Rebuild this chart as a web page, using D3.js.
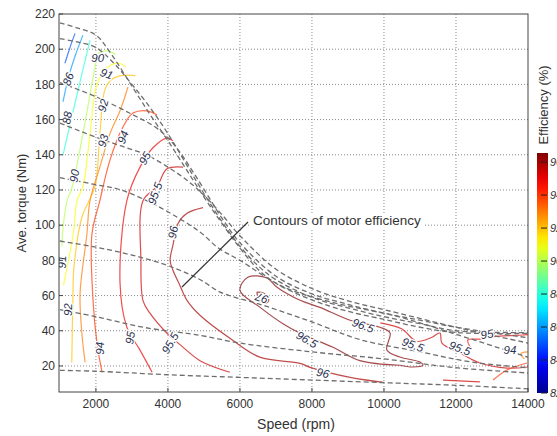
<!DOCTYPE html>
<html>
<head>
<meta charset="utf-8">
<script src="https://cdn.jsdelivr.net/npm/d3@7"></script>
<style>
body { margin: 0; background: #fff; }
svg { display: block; font-family: "Liberation Sans", Arial, sans-serif; }
</style>
</head>
<body>
<svg id="chart" width="557" height="436"></svg>
<script>
// axis ticks
var xTicks = [2000, 4000, 6000, 8000, 10000, 12000, 14000];
var yTicks = [20, 40, 60, 80, 100, 120, 140, 160, 180, 200, 220];
var cbTicks = [82, 84, 86, 88, 90, 92, 94, 96];

// dashed torque/speed curves, [rpm, Nm]
var dash1 = [[1000,215],[1500,212],[2000,208],[2400,198],[3000,179],[3500,163],[4000,148],[4500,132],[5000,116],[5500,101],[6000,87],[6500,75],[7000,67],[8000,57.5],[9000,51],[10000,46.5],[11000,42],[12000,39],[14000,38.5]];
var dash2 = [[1000,206],[1500,204],[2000,201],[2500,192],[3000,180],[3500,167],[4000,152],[4500,135],[5000,118],[5500,102],[6000,88],[6500,77],[7000,69],[8000,59],[9000,53],[10000,48],[11000,44],[12000,40],[14000,39]];
var dash3 = [[1000,181],[2000,173],[3000,163],[3700,155],[4200,145],[4800,127],[5500,104],[6000,90],[7000,71],[8000,61],[9000,55],[10000,50],[11000,46],[12000,42],[14000,36]];
var dash4 = [[1000,158],[2000,150],[2700,145],[3400,140],[4000,133],[4500,126],[5000,117],[5500,106],[6000,94],[7000,75],[8000,64],[9000,57],[10000,52],[11000,47],[12000,42],[14000,33]];
var dash5 = [[1000,127],[2000,123],[2700,120],[3600,112],[4300,104],[4900,96],[5400,87],[6000,80],[7200,65],[8600,56],[10400,48],[12000,38],[14000,25]];
var dash6 = [[1000,91],[2000,87.5],[3000,83],[4000,77],[4900,69],[5450,62],[6640,54.5],[8000,45],[9330,35],[11000,28],[12500,22],[14000,19]];
var dash7 = [[1000,52],[2000,48],[3310,42],[4890,37.4],[6000,33],[8000,28],[10000,24],[12000,19],[14000,16]];
var dash8 = [[1000,17.5],[2000,17],[4000,15],[6000,13.5],[8000,12],[10000,10.5],[12000,9],[14000,7]];

// efficiency contours, [rpm, Nm]
var eff85 = [[1140,192],[1280,201],[1420,209]];
var eff86 = [[1086,170],[1225,183],[1420,196],[1640,208]];
var eff88 = [[1086,140],[1200,150],[1336,162],[1600,185],[1836,205]];
var eff90 = [[1050,88],[1100,101],[1200,114],[1330,121],[1640,152],[1975,190],[2050,197],[2300,199],[2550,197]];
var eff91 = [[1100,66],[1370,95],[1475,114],[1640,122],[1810,147],[2000,178],[2140,185],[2420,191],[2640,192],[2830,190]];
var eff92 = [[1330,22],[1360,57],[1390,76],[1610,104.5],[1975,122],[2110,152],[2250,177],[2420,182.5],[2700,185],[3100,185]];
var eff93 = [[1700,22],[1610,38.6],[1560,61],[1750,95],[1836,114],[2110,133],[2390,152],[2670,165],[2890,178.5]];
var eff94 = [[2170,16.4],[2030,33],[1920,57.3],[1890,95],[2110,114],[2390,137],[2750,155.7],[3030,163.7],[3420,165],[3700,162.6]];
var eff95 = [[3560,16.4],[3225,29],[2860,42],[2670,67],[2860,114],[3225,133],[3585,144],[3974,149.5],[4140,148]];
var eff955 = [[5720,16.4],[4890,23],[4400,31],[3974,38.6],[3500,50],[3310,57],[3250,80],[3310,114],[3697,122],[3974,132],[4420,133]];
var eff96 = [[4975,110],[4530,106.8],[4280,101],[4140,88.6],[4060,80],[4140,74.4],[4330,65.9],[4530,57.3],[4890,48.8],[5800,34.6],[6550,25],[7670,21.5],[7950,19.2],[9060,13.5],[9980,10.7]];
var eff965 = [[10440,20.4],[9330,23],[8585,30.6],[7670,38.6],[7195,44],[6560,53.3],[6000,63],[6220,70.4],[6750,70],[7030,64.7],[7670,57.3],[8220,53.3],[9060,46],[9890,42],[10170,38.7],[10080,29.1],[10440,25.1],[11000,22.2],[11080,20.5],[10800,19.4],[10440,20.4]];
var eff97 = [[6470,62],[6650,61.5],[6800,58],[6750,56],[6550,57],[6470,62]];
// high-speed region pieces
var eff955b = [[9900,44.5],[10500,41],[10900,34],[11300,36],[11555,38.7],[11610,33],[12110,27.4],[12665,21.7],[13415,18.8],[14000,19.4]];
var eff95b = [[12390,30.8],[12330,34.8],[12665,35.3],[12940,36.5],[13860,37.6],[14000,37.8]];
var eff955c = [[11640,12],[12665,10.9]];
var eff94b = [[13030,12],[13415,17.7],[13970,21.7]];
var eff93b = [[13900,24],[13800,27],[14000,28]];

var contours = [
  {level: 85, pts: eff85}, {level: 86, pts: eff86}, {level: 88, pts: eff88},
  {level: 90, pts: eff90}, {level: 91, pts: eff91}, {level: 92, pts: eff92},
  {level: 93, pts: eff93}, {level: 94, pts: eff94}, {level: 95, pts: eff95},
  {level: 95.5, pts: eff955}, {level: 96, pts: eff96}, {level: 96.5, pts: eff965},
  {level: 97, pts: eff97}, {level: 95.5, pts: eff955b}, {level: 95, pts: eff95b},
  {level: 95.5, pts: eff955c}, {level: 94, pts: eff94b}, {level: 93, pts: eff93b}
];

// contour labels: text, rpm, Nm, angle
var labelText = ["86","88","90","91","90","92","93","94","95","95.5","96","91","92","94","95","95.5","97","96.5","96","96.5","95.5","95.5","95","94"];
var labelRpm  = [1230,1200,2050,2300,1400,2200,2200,2750,3360,3640,4140,1060,1225,2100,2950,4060,6610,7860,8300,9420,10805,12110,12860,13500];
var labelNm   = [183,161,195,186,128,168,148,150,138,118,96,79,52,30,36,33,58.5,35,16,43,32,30,38,29];
var labelAng  = [-70,-80,0,20,-80,-75,-75,-70,-60,-70,-80,-90,-90,-90,-80,-60,200,30,12,20,20,20,-10,0];

var svg = d3.select("#chart");

var x = d3.scaleLinear().domain([975, 14000]).range([59, 528]);
var y = d3.scaleLinear().domain([5.2, 220]).range([392, 14]);

var jet = d3.scaleLinear()
  .domain([0, 0.125, 0.375, 0.625, 0.875, 1])
  .range(["#00008f", "#0000ff", "#00ffff", "#ffff00", "#ff0000", "#800000"]);
var cb = d3.scaleLinear().domain([82, 96.55]).clamp(true);
// thin blurred lines in the source read a bit lighter than the bar
var effColor = function(v) { return d3.interpolateRgb(jet(cb(v)), "#fff")(0.18); };

// grid
var grid = svg.append("g").attr("stroke", "#8a8a8a").attr("stroke-dasharray", "1,2").attr("stroke-width", 1);
xTicks.filter(function(d) { return d < 14000; }).forEach(function(d) {
  grid.append("line").attr("x1", x(d)).attr("x2", x(d)).attr("y1", y(220)).attr("y2", y(5.2));
});
yTicks.filter(function(d) { return d < 220; }).forEach(function(d) {
  grid.append("line").attr("x1", x(975)).attr("x2", x(14000)).attr("y1", y(d)).attr("y2", y(d));
});

svg.append("clipPath").attr("id", "plotclip").append("rect")
  .attr("x", 59).attr("y", 14).attr("width", 469).attr("height", 378);

var plot = svg.append("g").attr("clip-path", "url(#plotclip)");

var smooth = d3.line().x(function(d) { return x(d[0]); }).y(function(d) { return y(d[1]); }).curve(d3.curveCatmullRom);

// efficiency contours
plot.selectAll("path.eff").data(contours).enter().append("path")
  .attr("class", "eff")
  .attr("fill", "none")
  .attr("stroke", function(d) { return effColor(d.level); })
  .attr("stroke-opacity", 0.85)
  .attr("stroke-width", 1.2)
  .attr("d", function(d) { return smooth(d.pts); });

// dashed curves
var dashes = [dash1, dash2, dash3, dash4, dash5, dash6, dash7, dash8];
plot.selectAll("path.dash").data(dashes).enter().append("path")
  .attr("class", "dash")
  .attr("fill", "none")
  .attr("stroke", "#6e6e6e")
  .attr("stroke-width", 1.3)
  .attr("stroke-dasharray", "5,3")
  .attr("d", smooth);

// contour labels
labelText.forEach(function(t, i) {
  plot.append("text")
    .attr("transform", "translate(" + x(labelRpm[i]) + "," + y(labelNm[i]) + ") rotate(" + labelAng[i] + ")")
    .attr("text-anchor", "middle")
    .attr("dy", "0.35em")
    .attr("font-size", 11.5)
    .attr("font-style", "italic")
    .attr("fill", "#2a3050")
    .attr("stroke", "#fff")
    .attr("stroke-width", 2.5)
    .attr("paint-order", "stroke")
    .text(t);
});

// annotation
svg.append("line").attr("x1", 248).attr("y1", 222).attr("x2", 182).attr("y2", 287)
  .attr("stroke", "#333").attr("stroke-width", 1.2);
var annG = svg.append("g");
var ann = annG.append("text").attr("x", 253).attr("y", 225).attr("font-size", 13.5).attr("fill", "#333")
  .text("Contours of motor efficiency");
var bb = ann.node().getBBox();
annG.insert("rect", "text").attr("x", bb.x - 2).attr("y", bb.y).attr("width", bb.width + 4).attr("height", bb.height).attr("fill", "#fff");

// frame
svg.append("rect").attr("x", 59).attr("y", 14).attr("width", 469).attr("height", 378)
  .attr("fill", "none").attr("stroke", "#444").attr("stroke-width", 1);

// ticks
var ax = svg.append("g").attr("font-size", 12).attr("fill", "#333");
xTicks.forEach(function(d) {
  ax.append("line").attr("x1", x(d)).attr("x2", x(d)).attr("y1", 392).attr("y2", 388).attr("stroke", "#444");
  ax.append("text").attr("x", x(d)).attr("y", 408).attr("text-anchor", "middle").text(d);
});
yTicks.forEach(function(d) {
  ax.append("line").attr("x1", 59).attr("x2", 63).attr("y1", y(d)).attr("y2", y(d)).attr("stroke", "#444");
  ax.append("text").attr("x", 55).attr("y", y(d)).attr("dy", "0.35em").attr("text-anchor", "end").text(d);
});

svg.append("text").attr("x", 296).attr("y", 429).attr("text-anchor", "middle")
  .attr("font-size", 14).attr("fill", "#333").text("Speed (rpm)");
svg.append("text").attr("transform", "translate(26,203) rotate(-90)").attr("text-anchor", "middle")
  .attr("font-size", 13).attr("fill", "#333").text("Ave. torque (Nm)");

// colorbar (its labels run off the right edge, as in the source image)
var cbY = d3.scaleLinear().domain([82, 96.55]).range([393, 153]);
var grad = svg.append("defs").append("linearGradient").attr("id", "jetgrad")
  .attr("x1", 0).attr("y1", 1).attr("x2", 0).attr("y2", 0);
d3.range(0, 1.001, 0.05).forEach(function(t) {
  grad.append("stop").attr("offset", t).attr("stop-color", jet(t));
});
svg.append("rect").attr("x", 537).attr("y", 153).attr("width", 11).attr("height", 240).attr("fill", "url(#jetgrad)");
cbTicks.forEach(function(d) {
  svg.append("line").attr("x1", 541).attr("x2", 547).attr("y1", cbY(d)).attr("y2", cbY(d)).attr("stroke", "#222");
  svg.append("text").attr("x", 550).attr("y", cbY(d)).attr("dy", "0.35em").attr("font-size", 11)
    .attr("font-style", "italic").attr("fill", "#333").text(d);
});
svg.append("text").attr("transform", "translate(548,105) rotate(-90)").attr("text-anchor", "middle")
  .attr("font-size", 13).attr("fill", "#333").text("Efficiency (%)");
</script>
</body>
</html>
